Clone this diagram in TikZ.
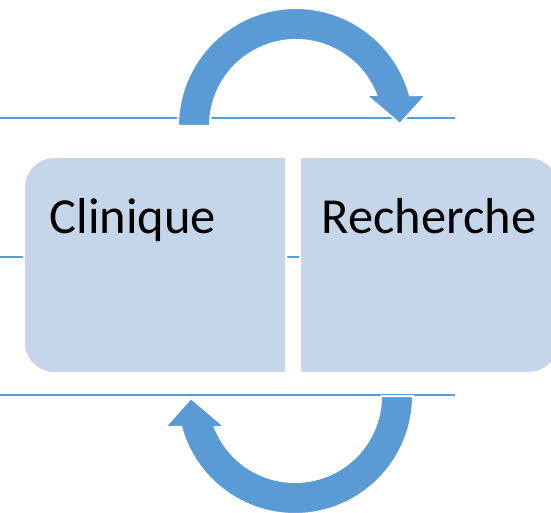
\documentclass[tikz,border=0pt]{standalone}
\usepackage{fontspec}
\setmainfont{Carlito}
\definecolor{accent}{HTML}{5B9BD5}
\definecolor{boxfill}{HTML}{C5D5EA}
\begin{document}
\begin{tikzpicture}[x=1pt,y=1pt,
  guide/.style={draw=accent,line width=2pt},
  panel/.style={fill=boxfill,draw=white,line width=2pt},
  label/.style={anchor=base west,inner sep=0pt,font=\fontsize{50.5}{60}\selectfont},
  cyclearrow/.pic={
    \path[fill=accent,draw=white,line width=2pt,line join=miter]
      (-118,0) arc[start angle=180,end angle=15.23,radius=118pt]
      -- (130,31) -- (104,2) -- (70,31) -- (80.2,31)
      arc[start angle=21.13,end angle=180,radius=86pt] -- cycle;
  }]
\useasboundingbox (0,0) rectangle (551,512);
\clip (0,0) rectangle (551,512);

% horizontal guide lines
\coordinate (t0) at (0,393.5);   \coordinate (t1) at (455,393.5);
\coordinate (m0) at (0,255);     \coordinate (m1) at (455,255);
\coordinate (b0) at (0,117);     \coordinate (b1) at (455,117);
\draw[guide] (t0) -- (t1);
\draw[guide] (m0) -- (m1);
\draw[guide] (b0) -- (b1);

% two process panels
\path[panel] (286,139) -- (54,139) arc[start angle=270,end angle=180,radius=30pt]
  -- (24,325) arc[start angle=180,end angle=90,radius=30pt] -- (286,355) -- cycle;
\path[panel] (300,139) -- (529,139) arc[start angle=-90,end angle=0,radius=30pt]
  -- (559,325) arc[start angle=0,end angle=90,radius=30pt] -- (300,355) -- cycle;

\node[label] (clin) at (49.5,279) {Clinique};
\node[label] (rech) at (321.5,279) {Recherche};

% circular arrows linking the two
\pic (top) at (296,386) {cyclearrow};
\pic[rotate=180] (bottom) at (295,116) {cyclearrow};
\end{tikzpicture}
\end{document}
